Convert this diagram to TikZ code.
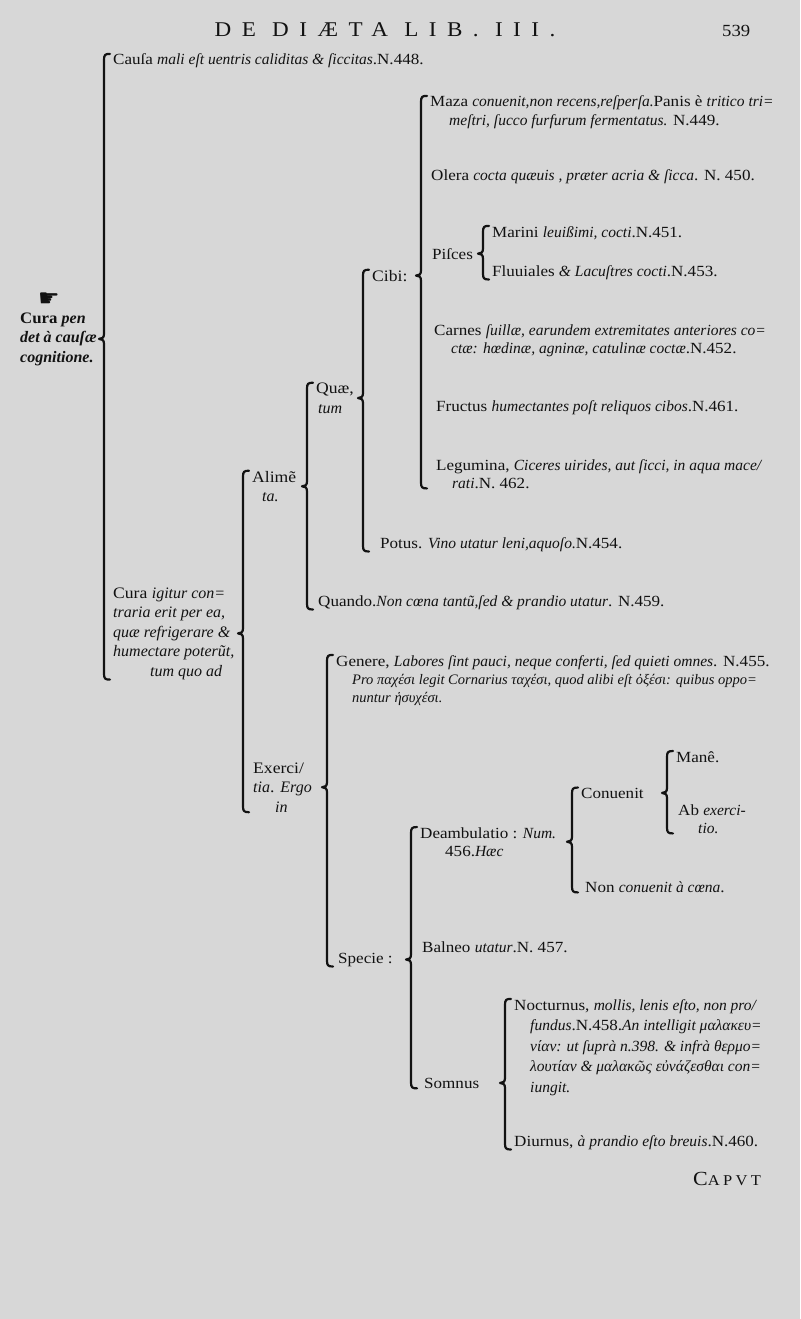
\documentclass[tikz,border=0pt]{standalone}
\usepackage{fontspec}
\setmainfont{Liberation Serif}[UprightFeatures={FakeStretch=1.1},BoldFeatures={FakeStretch=1.05}]
\newfontfamily\symfont{DejaVu Sans}
\usetikzlibrary{calc}
\definecolor{ink}{HTML}{121212}
\definecolor{paper}{HTML}{D7D7D7}
\newcommand\msz{\fontsize{15.5}{18}\selectfont}
\newcommand\bsz{\fontsize{16}{19.5}\selectfont}
\newcommand\ssz{\fontsize{14.5}{17}\selectfont}
\newcommand\brk[3]{%
  \draw[brkline] let \p1=(#1.east), \p2=(#2.north west), \p3=(#3.south west), \n1={\x2-9pt} in
    (\n1+6pt,\y2) .. controls (\n1+1pt,\y2) and (\n1,\y2-1pt) .. (\n1,\y2-6pt)
    -- (\n1,\y1+5pt) .. controls (\n1,\y1+1pt) and (\n1-2pt,\y1) .. (\n1-5pt,\y1)
    .. controls (\n1-2pt,\y1) and (\n1,\y1-1pt) .. (\n1,\y1-5pt)
    -- (\n1,\y3+6pt) .. controls (\n1,\y3+1pt) and (\n1+1pt,\y3) .. (\n1+6pt,\y3);}
\begin{document}
\begin{tikzpicture}[x=1pt,y=-1pt,
  lbl/.style={inner sep=0pt, anchor=base west, align=left, font=\msz, text=ink},
  big/.style={lbl, font=\bsz},
  brkline/.style={draw=ink, line width=2.2pt, line cap=round, line join=round}]
\useasboundingbox (0,0) rectangle (800,1319);
\fill[paper] (0,0) rectangle (800,1319);
% header (multi-line nodes are anchored at the baseline of their last line)
\node[lbl, anchor=base, font=\fontsize{21}{21}\selectfont] (hdr) at (385,37) {\addfontfeature{LetterSpace=50}DE DIÆTA LIB. III.};
\node[lbl, font=\fontsize{17}{17}\selectfont] (pg) at (722,37) {539};
% root
\node[lbl, font=\fontsize{24}{24}\selectfont] (hand) at (38,306) {\symfont ☛};
\node[big, font=\bfseries\bsz] (root) at (20,362) {Cura \textit{pen}\\\textit{det à cauſæ}\\\textit{cognitione.}};
% level 1
\node[lbl] (causa) at (113,65) {Cauſa \textit{mali eſt uentris caliditas \& ſiccitas}.N.448.};
\node[big] (curaig) at (113,676) {Cura \textit{igitur con=}\\\textit{traria erit per ea,}\\\textit{quæ refrigerare \&}\\\textit{humectare poterũt,}\\\hspace*{37pt}\textit{tum quo ad}};
% level 2
\node[big] (alim) at (252,501.5) {Alimẽ\\\hspace*{10pt}\textit{ta.}};
\node[big] (exer) at (253,812) {Exerci/\\\textit{tia}. \textit{Ergo}\\\hspace*{22pt}\textit{in}};
% level 3 (alimenta)
\node[big] (quae) at (316,413) {Quæ,\\\hspace*{2pt}\textit{tum}};
\node[lbl] (quando) at (318,606) {Quando.\textit{Non cœna tantũ,ſed \& prandio utatur}. N.459.};
% level 4
\node[big] (cibi) at (372,281) {Cibi:};
\node[lbl] (potus) at (380,548) {Potus. \textit{Vino utatur leni,aquoſo.}N.454.};
% level 5 (cibi)
\node[lbl] (maza) at (430,125) {Maza \textit{conuenit,non recens,reſperſa.}Panis è \textit{tritico tri=}\\\hspace*{19pt}\textit{meſtri, ſucco furfurum fermentatus.} N.449.};
\node[lbl] (olera) at (431,180) {Olera \textit{cocta quæuis , præter acria \& ſicca}. N. 450.};
\node[lbl] (pisces) at (432,259) {Piſces};
\node[lbl] (marini) at (492,237) {Marini \textit{leuißimi, cocti}.N.451.};
\node[lbl] (fluu) at (492,276) {Fluuiales \textit{\& Lacuſtres cocti}.N.453.};
\node[lbl] (carnes) at (434,353) {Carnes \textit{ſuillæ, earundem extremitates anteriores co=}\\\hspace*{17pt}\textit{ctæ: hœdinæ, agninæ, catulinæ coctæ}.N.452.};
\node[lbl] (fructus) at (436,411) {Fructus \textit{humectantes poſt reliquos cibos}.N.461.};
\node[lbl] (legum) at (436,488) {Legumina, \textit{Ciceres uirides, aut ſicci, in aqua mace/}\\\hspace*{16pt}\textit{rati}.N. 462.};
% exercitia
\node[lbl] (genere) at (336,702) {Genere, \textit{Labores ſint pauci, neque conferti, ſed quieti omnes}. N.455.\\
  \hspace*{16pt}{\ssz\textit{Pro παχέσι legit Cornarius ταχέσι, quod alibi eſt ὀξέσι: quibus oppo=}}\\
  \hspace*{16pt}{\ssz\textit{nuntur ἡσυχέσι.}}};
\node[lbl] (specie) at (338,963) {Specie :};
\node[lbl] (deamb) at (420,856) {Deambulatio : \textit{Num.}\\\hspace*{25pt}456.\textit{Hæc}};
\node[lbl] (conuenit) at (581,798) {Conuenit};
\node[lbl] (mane) at (676,762) {Manê.};
\node[lbl] (abex) at (678,833) {Ab \textit{exerci-}\\\hspace*{20pt}\textit{tio.}};
\node[lbl] (nonconu) at (585,892) {Non \textit{conuenit à cœna}.};
\node[lbl] (balneo) at (422,952) {Balneo \textit{utatur}.N. 457.};
\node[lbl] (somnus) at (424,1088) {Somnus};
\node[lbl] (noct) at (514,1092) {Nocturnus, \textit{mollis, lenis eſto, non pro/}\\[2.5pt]
  \hspace*{16pt}\textit{fundus}.N.458.\textit{An intelligit μαλακευ=}\\[2.5pt]
  \hspace*{16pt}\textit{νίαν: ut ſuprà n.398. \& infrà θερμο=}\\[2.5pt]
  \hspace*{16pt}\textit{λουτίαν \& μαλακῶς εὐνάζεσθαι con=}\\[2.5pt]
  \hspace*{16pt}\textit{iungit.}};
\node[lbl] (diurnus) at (514,1146) {Diurnus, \textit{à prandio eſto breuis}.N.460.};
\node[lbl, font=\fontsize{20}{20}\selectfont] (caput) at (693,1185) {\addfontfeature{LetterSpace=22}C{\fontsize{15}{15}\selectfont APVT}};
% brackets
\brk{root}{causa}{curaig}
\brk{curaig}{alim}{exer}
\brk{alim}{quae}{quando}
\brk{quae}{cibi}{potus}
\brk{cibi}{maza}{legum}
\brk{pisces}{marini}{fluu}
\brk{exer}{genere}{specie}
\brk{specie}{deamb}{somnus}
\brk{deamb}{conuenit}{nonconu}
\brk{conuenit}{mane}{abex}
\brk{somnus}{noct}{diurnus}
\end{tikzpicture}
\end{document}
